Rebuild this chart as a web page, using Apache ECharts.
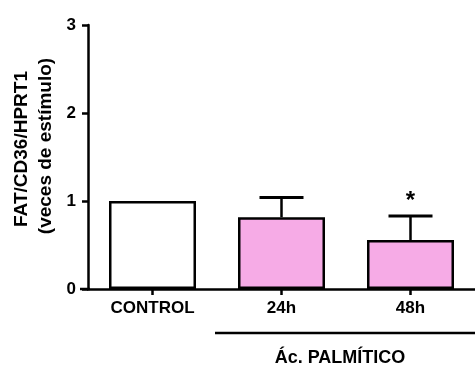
<!DOCTYPE html>
<html>
<head>
  <meta charset="UTF-8">
  <title>FAT/CD36</title>
  <style>
    html, body { margin: 0; padding: 0; background: #fff; }
    #chart { width: 475px; height: 365px; }
  </style>
  <script src="https://cdn.jsdelivr.net/npm/echarts@6/dist/echarts.min.js"></script>
</head>
<body>
<div id="chart"></div>
<script>
  var categories = ['CONTROL', '24h', '48h'];
  var values = [1.0, 0.815, 0.557];
  var errTop = [null, 1.04, 0.83];
  var barColors = ['#ffffff', '#f6abe6', '#f6abe6'];
  var signif = ['', '', '*'];
  var yTicks = [0, 1, 2, 3];

  var chart = echarts.init(document.getElementById('chart'));
  var font = 'Liberation Sans, Arial, sans-serif';

  var option = {
    animation: false,
    grid: { left: 88, top: 25, width: 396, height: 264 },
    xAxis: {
      type: 'category',
      data: categories,
      axisLine: { lineStyle: { color: '#000', width: 2.5 } },
      axisTick: { show: true, alignWithLabel: true, length: 6, lineStyle: { color: '#000', width: 2.5 } },
      axisLabel: { color: '#000', fontWeight: 'bold', fontSize: 17, fontFamily: font, margin: 11 }
    },
    yAxis: {
      type: 'value',
      min: 0, max: 3, interval: 1,
      axisLine: { show: true, lineStyle: { color: '#000', width: 2.5 } },
      axisTick: { show: true, length: 6, lineStyle: { color: '#000', width: 2.5 } },
      axisLabel: {
        color: '#000', fontWeight: 'bold', fontSize: 17, fontFamily: font, margin: 12,
        formatter: function (v) { return yTicks.indexOf(v) >= 0 ? String(v) : ''; }
      },
      splitLine: { show: false }
    },
    graphic: [
      { type: 'line', shape: { x1: 80, y1: 289, x2: 90, y2: 289 }, style: { stroke: '#000', lineWidth: 2.5 } },
      { type: 'line', shape: { x1: 215, y1: 333, x2: 475, y2: 333 }, style: { stroke: '#000', lineWidth: 2.5 } },
      { type: 'text', x: 340, y: 358, style: { text: 'Ác. PALMÍTICO', fill: '#000', font: 'bold 18px ' + font, textAlign: 'center', textVerticalAlign: 'middle' } },
      { type: 'text', rotation: Math.PI / 2, x: 22, y: 149, style: { text: 'FAT/CD36/HPRT1', fill: '#000', font: 'bold 19px ' + font, textAlign: 'center', textVerticalAlign: 'middle' } },
      { type: 'text', rotation: Math.PI / 2, x: 46, y: 146, style: { text: '(veces de estímulo)', fill: '#000', font: 'bold 19px ' + font, textAlign: 'center', textVerticalAlign: 'middle' } }
    ],
    series: [
      {
        type: 'bar',
        barWidth: 87,
        z: 2,
        data: values.map(function (v, i) {
          return { value: v, itemStyle: { color: barColors[i], borderColor: '#000', borderWidth: 2.5 } };
        })
      },
      {
        type: 'custom',
        z: 1,
        data: values.map(function (v, i) { return [i, v, errTop[i], signif[i]]; }),
        renderItem: function (params, api) {
          var i = api.value(0);
          var top = api.value(2);
          var children = [];
          if (top != null && !isNaN(top)) {
            var p0 = api.coord([i, api.value(1)]);
            var p1 = api.coord([i, top]);
            var hw = 22;
            children.push({ type: 'line', shape: { x1: p1[0], y1: p0[1], x2: p1[0], y2: p1[1] }, style: { stroke: '#000', lineWidth: 2.5 } });
            children.push({ type: 'line', shape: { x1: p1[0] - hw, y1: p1[1], x2: p1[0] + hw, y2: p1[1] }, style: { stroke: '#000', lineWidth: 3 } });
            var s = signif[params.dataIndex];
            if (s) {
              children.push({ type: 'text', x: p1[0], y: p1[1] - 3, style: { text: s, fill: '#000', font: 'bold 24px ' + font, textAlign: 'center', textVerticalAlign: 'bottom' } });
            }
          }
          return { type: 'group', children: children };
        }
      }
    ]
  };
  chart.setOption(option);
</script>
</body>
</html>
